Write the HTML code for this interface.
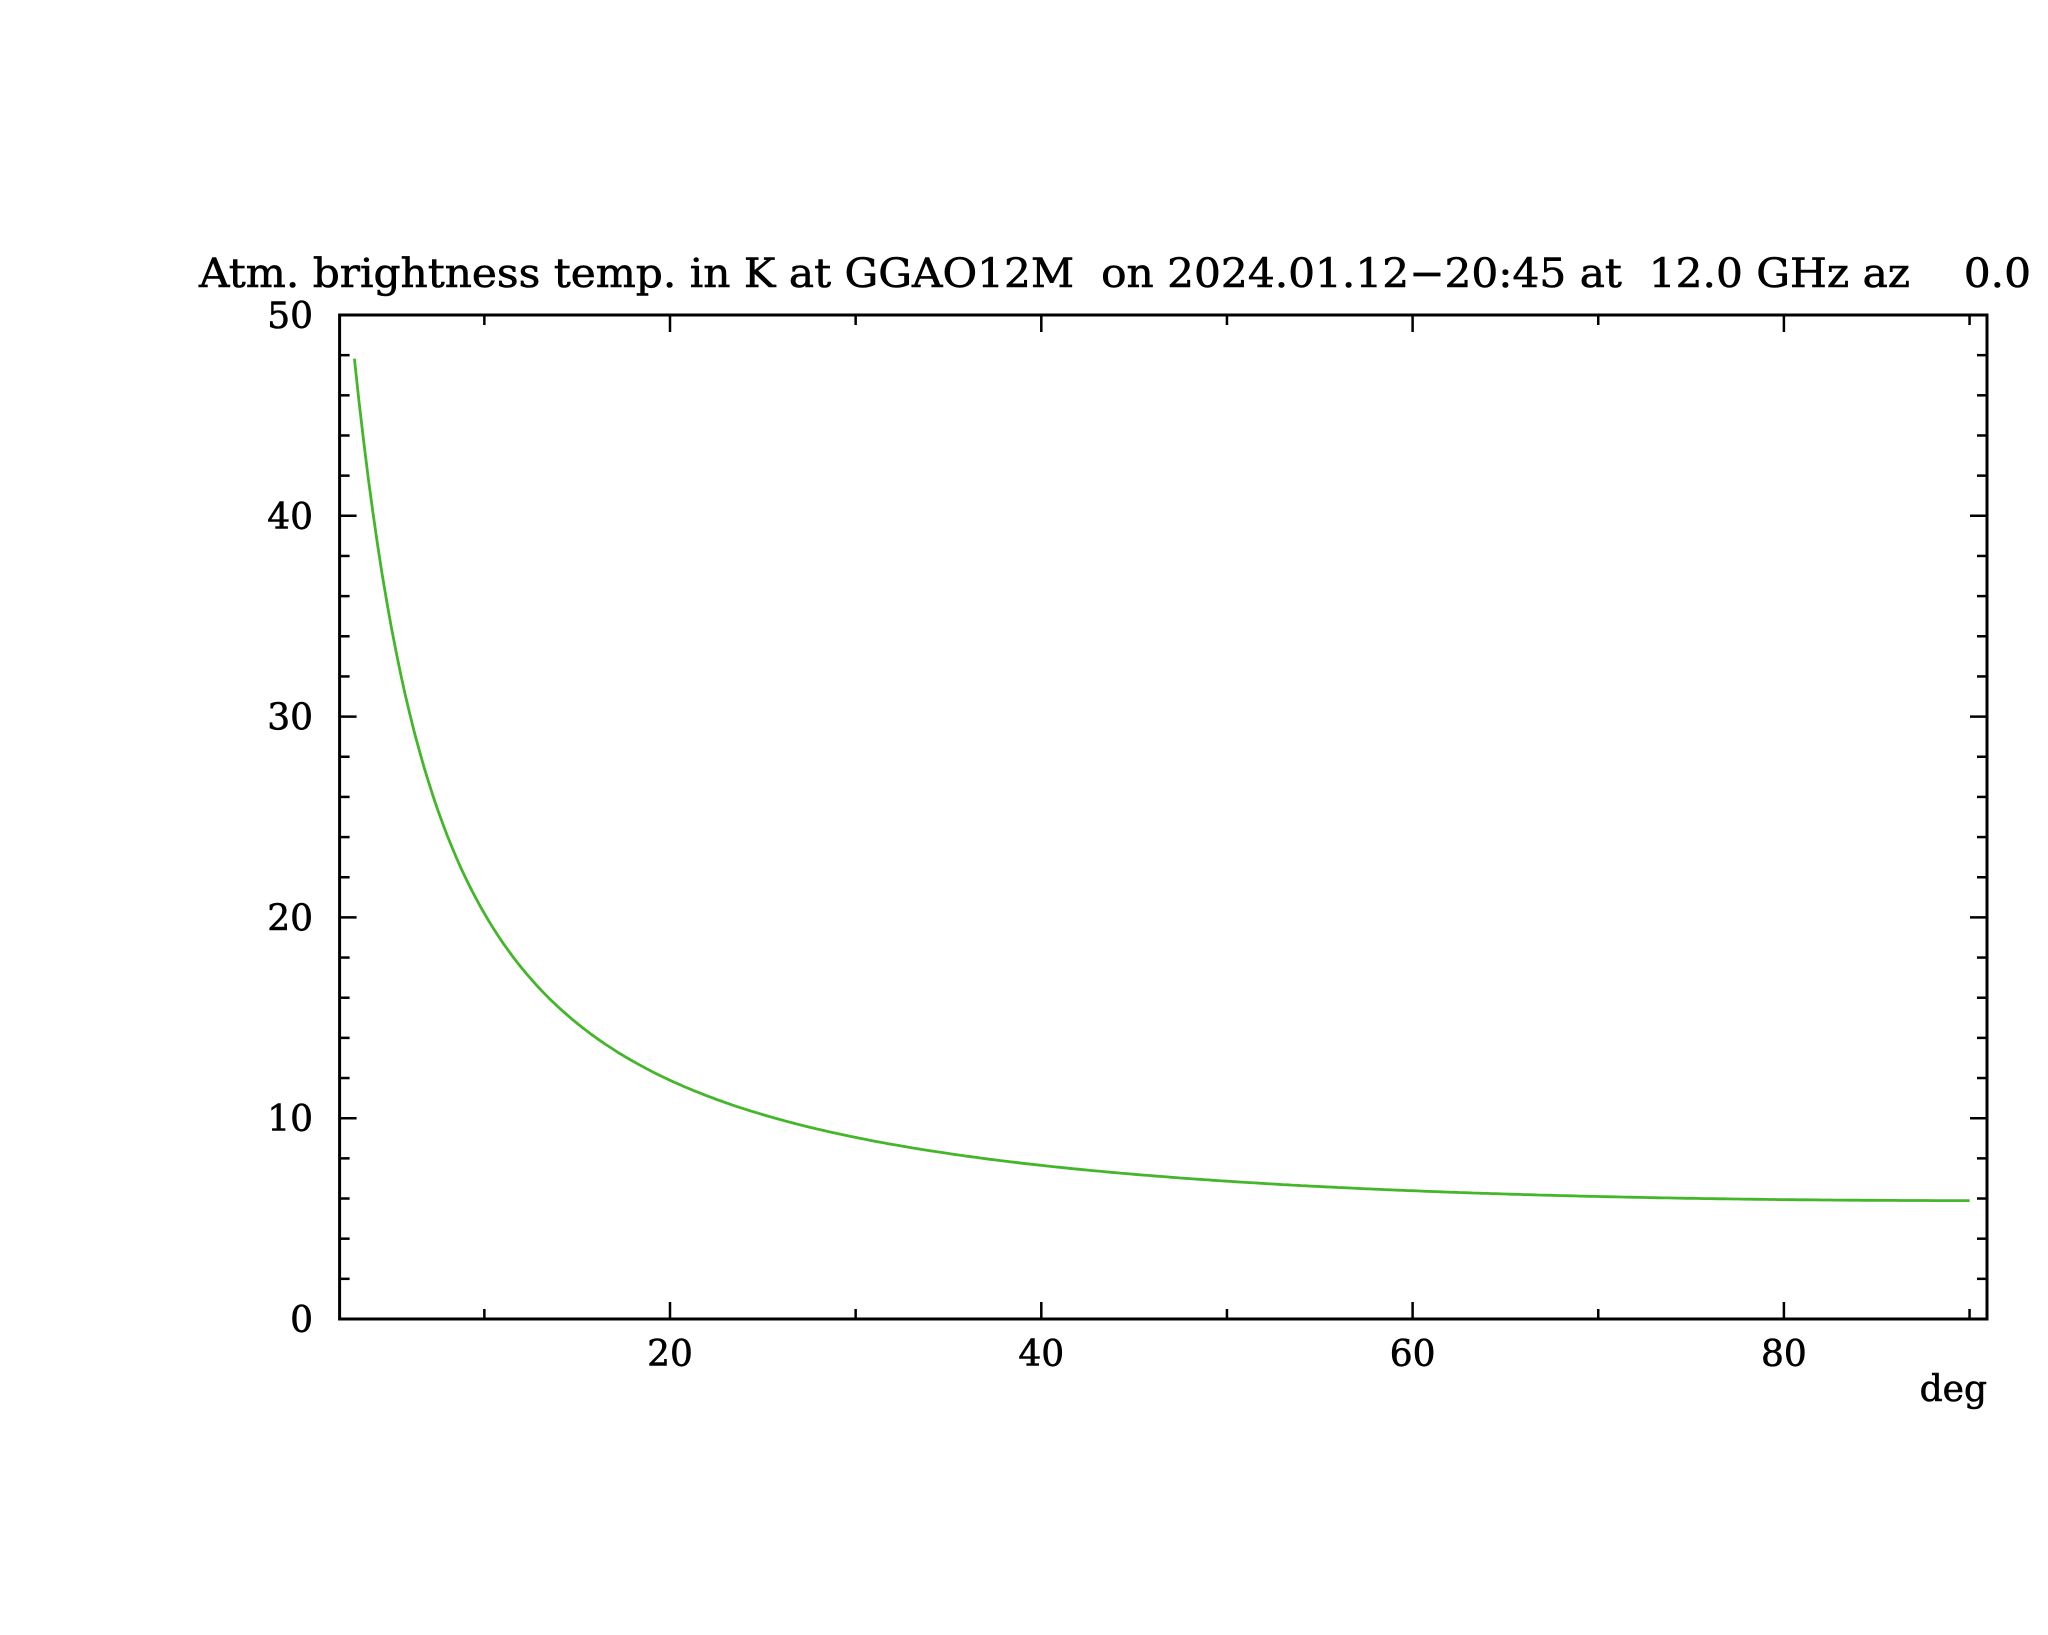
<!DOCTYPE html>
<html><head><meta charset="utf-8"><style>
html,body{margin:0;padding:0;background:#fff;width:2048px;height:1635px;overflow:hidden}
svg text{font-family:"DejaVu Serif","Liberation Serif",serif;fill:#000;stroke:#000;stroke-width:0.6}
</style></head><body>
<svg id="s" width="2048" height="1635" viewBox="0 0 2048 1635" xmlns="http://www.w3.org/2000/svg">
<rect width="2048" height="1635" fill="#fff"/>
<text x="199" y="287" font-size="40" textLength="1832" lengthAdjust="spacingAndGlyphs" xml:space="preserve">Atm. brightness temp. in K at GGAO12M  on 2024.01.12−20:45 at  12.0 GHz az    0.0</text>
<g id="ticks" stroke="#000" stroke-width="2.5"></g>
<rect x="339.6" y="315" width="1647.4" height="1004" fill="none" stroke="#000" stroke-width="3"/>
<path id="curve" fill="none" stroke="#44b62a" stroke-width="2.8"/>
<g id="labels" font-size="36"></g>
<text x="1987" y="1401" font-size="36" text-anchor="end">deg</text>
</svg>
<script>
var X=function(d){return 670+(d-20)*18.565;};
var Y=function(v){return 1319-v*20.08;};
var t=document.getElementById('ticks'),L=document.getElementById('labels'),ns='http://www.w3.org/2000/svg';
function line(x1,y1,x2,y2){var l=document.createElementNS(ns,'line');l.setAttribute('x1',x1);l.setAttribute('y1',y1);l.setAttribute('x2',x2);l.setAttribute('y2',y2);t.appendChild(l);}
function txt(x,y,s,a){var e=document.createElementNS(ns,'text');e.setAttribute('x',x);e.setAttribute('y',y);e.setAttribute('text-anchor',a);e.textContent=s;L.appendChild(e);}
for(var d=10;d<=90;d+=10){var x=X(d),len=(d%20==0)?17:10;line(x,1319,x,1319-len);line(x,315,x,315+len);if(d%20==0)txt(x,1366,String(d),'middle');}
for(var v=0;v<=50;v+=2){var y=Y(v),len=(v%10==0)?17:10;line(339.6,y,339.6+len,y);line(1987,y,1987-len,y);if(v%10==0)txt(313,y+13,String(v),'end');}
var p='';for(var e=3;e<=90.01;e+=0.25){var s=Math.sin(e*Math.PI/180);var A=1/Math.sqrt(s*s+0.00151);var Tb=2.7+270*(1-Math.exp(-0.01192*A));p+=(p?'L':'M')+X(e).toFixed(1)+','+Y(Tb).toFixed(1);}
document.getElementById('curve').setAttribute('d',p);
</script>
</body></html>
